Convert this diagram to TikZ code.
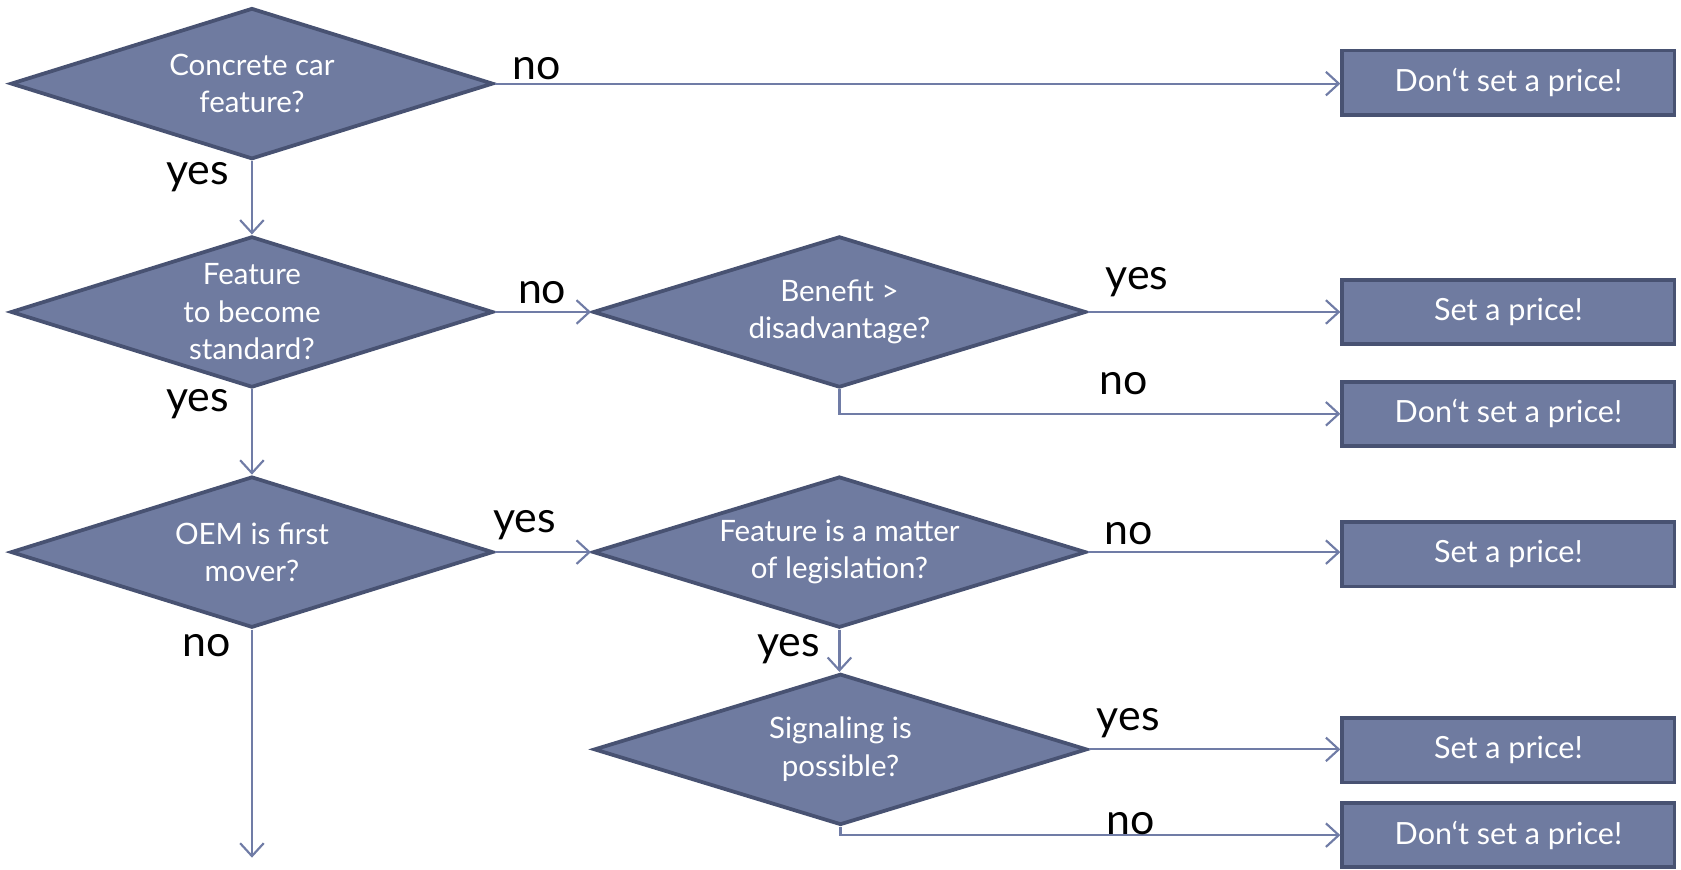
\documentclass[tikz,border=0pt]{standalone}
\usepackage{fontspec}
\setmainfont{Lato}
\usetikzlibrary{shapes.geometric,arrows.meta}
\definecolor{nodefill}{RGB}{111,123,160}
\definecolor{nodeline}{RGB}{72,82,114}
\definecolor{linec}{RGB}{112,124,166}
\tikzset{
  dec/.style={diamond, aspect=3.2, draw=nodeline, fill=nodefill, line width=3.5pt,
    inner sep=0pt, minimum width=450pt, minimum height=141pt, text=white,
    align=center, font=\fontsize{27.5}{35}\selectfont},
  decw/.style={dec, minimum width=460pt},
  res/.style={rectangle, draw=nodeline, fill=nodefill, line width=3.5pt,
    minimum width=310pt, minimum height=60pt, text=white,
    font=\fontsize{28.5}{32}\selectfont},
  conn/.style={draw=linec, line width=2pt,
    -{Straight Barb[length=12pt,width=22pt,line width=2pt]}},
  lab/.style={anchor=base west, inner sep=0pt, font=\fontsize{40}{44}\selectfont}
}
\begin{document}
\begin{tikzpicture}[x=1pt,y=-1pt]
\useasboundingbox (0,0) rectangle (1568,811);
% decisions
\node[dec]  (d1) at (235,78)  {Concrete car\\feature?};
\node[dec]  (d2) at (235,291) {Feature\\to become\\standard?};
\node[decw] (d3) at (783,291) {Benefit >\\disadvantage?};
\node[dec]  (d4) at (235,515) {OEM is first\\mover?};
\node[decw] (d5) at (783,515) {Feature is a matter\\of legislation?};
\node[decw] (d6) at (784,699) {Signaling is\\possible?};
% results
\node[res] (b1) at (1407,77)  {Don‘t set a price!};
\node[res] (b2) at (1407,291) {Set a price!};
\node[res] (b3) at (1407,386) {Don‘t set a price!};
\node[res] (b4) at (1407,517) {Set a price!};
\node[res] (b5) at (1407,700) {Set a price!};
\node[res] (b6) at (1407,779) {Don‘t set a price!};
\coordinate (end) at (235,800);
% connectors
\draw[conn] (d1.east) -- (d1.east -| b1.west);
\draw[conn] (d1.south) -- (d2.north);
\draw[conn] (d2.east) -- (d3.west);
\draw[conn] (d3.east) -- (d3.east -| b2.west);
\draw[conn] (d3.south) |- (b3.west);
\draw[conn] (d2.south) -- (d4.north);
\draw[conn] (d4.east) -- (d5.west);
\draw[conn] (d5.east) -- (d5.east -| b4.west);
\draw[conn] (d4.south) -- (end);
\draw[conn] (d5.south) -- (d5.south |- d6.north);
\draw[conn] (d6.east) -- (d6.east -| b5.west);
\draw[conn] (d6.south) |- (b6.west);
% labels
\node[lab] (l1)  at (478,74)   {no};
\node[lab] (l2)  at (155,172)  {yes};
\node[lab] (l3)  at (483,283)  {no};
\node[lab] (l4)  at (1031,270) {yes};
\node[lab] (l5)  at (1025,368) {no};
\node[lab] (l6)  at (155,384)  {yes};
\node[lab] (l7)  at (460,497)  {yes};
\node[lab] (l8)  at (1030,508) {no};
\node[lab] (l9)  at (170,612)  {no};
\node[lab] (l10) at (706,612)  {yes};
\node[lab] (l11) at (1023,681) {yes};
\node[lab] (l12) at (1032,778) {no};
\end{tikzpicture}
\end{document}
